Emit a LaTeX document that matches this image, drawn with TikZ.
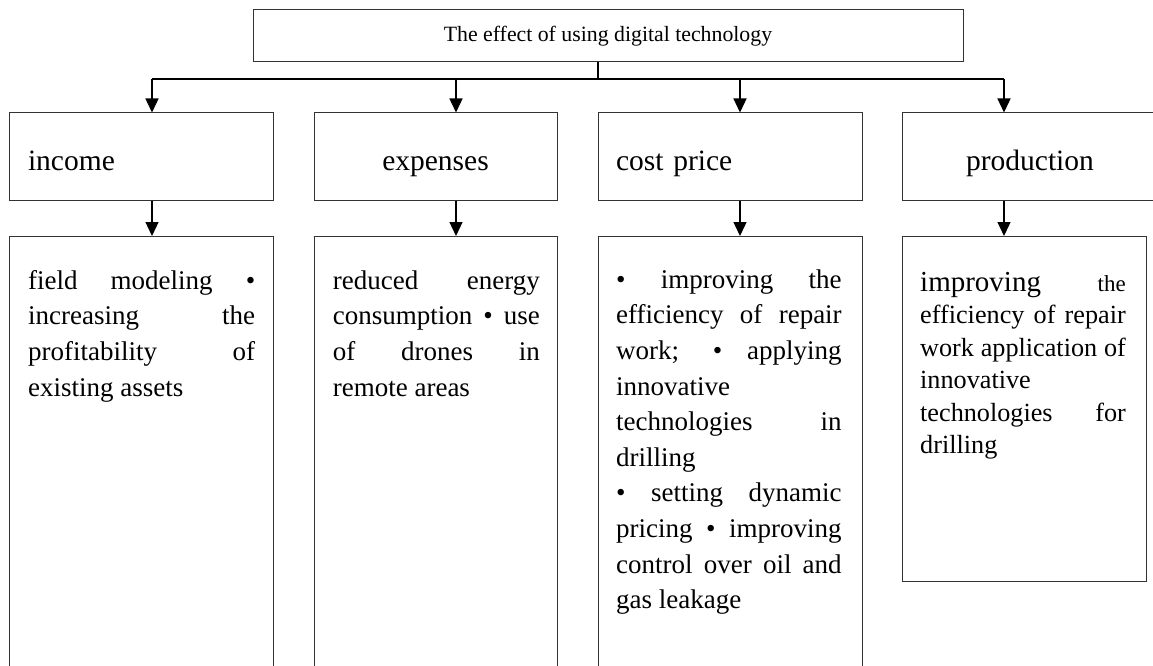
\documentclass[tikz,border=0pt]{standalone}
\usepackage{fontspec}
\setmainfont{Liberation Serif}
\usetikzlibrary{arrows.meta}
\newcommand{\nohyph}{\hyphenpenalty=10000\exhyphenpenalty=10000\relax}
\tikzset{
  box/.style={draw=black!80, line width=1pt, rectangle, inner sep=0pt},
  hdr/.style={box, minimum height=87pt, font=\fontsize{29.5}{35}\selectfont,
              text height=30pt, text depth=3pt, inner xsep=18pt},
  dbox/.style={box, anchor=north west},
  conn/.style={line width=1.3pt, draw=black},
  arr/.style={conn, -{Triangle[width=13pt,length=14pt]}},
  body/.style={inner sep=0pt, anchor=north west, align=justify,
               font=\fontsize{27}{35.6}\selectfont},
}
\begin{document}
\begin{tikzpicture}[x=1pt,y=-1pt]
\useasboundingbox (0,0) rectangle (1153,666);
\clip (0,0) rectangle (1153,666);

% title
\node[box, minimum width=710pt, minimum height=52pt, font=\fontsize{21.8}{26}\selectfont]
  (title) at (608,36) {The effect of using digital technology};

% second level
\node[hdr, minimum width=264pt, text width=226pt, align=left] (h1) at (141,156.5) {income};
\node[hdr, minimum width=243pt, align=center] (h2) at (435.5,156.5) {expenses};
\node[hdr, minimum width=264pt, text width=228pt, align=left] (h3) at (730,156.5) {cost price};
\node[hdr, minimum width=256pt, align=center] (h4) at (1030,156.5) {production};

% detail boxes
\node[dbox, minimum width=264pt, minimum height=460pt] (d1) at (9,236) {};
\node[dbox, minimum width=243pt, minimum height=460pt] (d2) at (314,236) {};
\node[dbox, minimum width=264pt, minimum height=460pt] (d3) at (598,236) {};
\node[dbox, minimum width=244pt, minimum height=345pt] (d4) at (902,236) {};

% detail texts
\node[body, text width=227pt] (t1) at (28,264.1)
  {\nohyph\strut field modeling •\linebreak increasing the\linebreak profitability of\linebreak existing assets};
\node[body, text width=207pt] (t2) at (332.6,264.1)
  {\nohyph\strut reduced energy\linebreak consumption • use\linebreak of drones in\linebreak remote areas};
\node[body, text width=225.5pt] (t3) at (616,263.1)
  {\nohyph\strut • improving the\linebreak efficiency of repair\linebreak work; • applying\linebreak innovative\linebreak
   technologies in\linebreak drilling\newline • setting dynamic\linebreak pricing • improving\linebreak
   control over oil and\linebreak gas leakage};
\node[body, text width=205.6pt, font=\fontsize{26.2}{32.5}\selectfont] (t4) at (920,268.25)
  {\nohyph\strut{\fontsize{29}{32.5}\selectfont improving} {\fontsize{23}{32.5}\selectfont the}\linebreak
   efficiency of repair\linebreak work application of\linebreak innovative\linebreak
   technologies for\linebreak drilling};

% connectors
\coordinate (stem) at (598,79);
\coordinate (a1) at (152,79);
\coordinate (a2) at (456,79);
\coordinate (a3) at (740,79);
\coordinate (a4) at (1004,79);
\draw[conn] (title.south -| stem) -- (stem);
\draw[conn] (a1) -- (a4);
\draw[arr] (a1) -- (a1 |- h1.north);
\draw[arr] (a2) -- (a2 |- h2.north);
\draw[arr] (a3) -- (a3 |- h3.north);
\draw[arr] (a4) -- (a4 |- h4.north);
\draw[arr] (a1 |- h1.south) -- (a1 |- d1.north);
\draw[arr] (a2 |- h2.south) -- (a2 |- d2.north);
\draw[arr] (a3 |- h3.south) -- (a3 |- d3.north);
\draw[arr] (a4 |- h4.south) -- (a4 |- d4.north);
\end{tikzpicture}
\end{document}
